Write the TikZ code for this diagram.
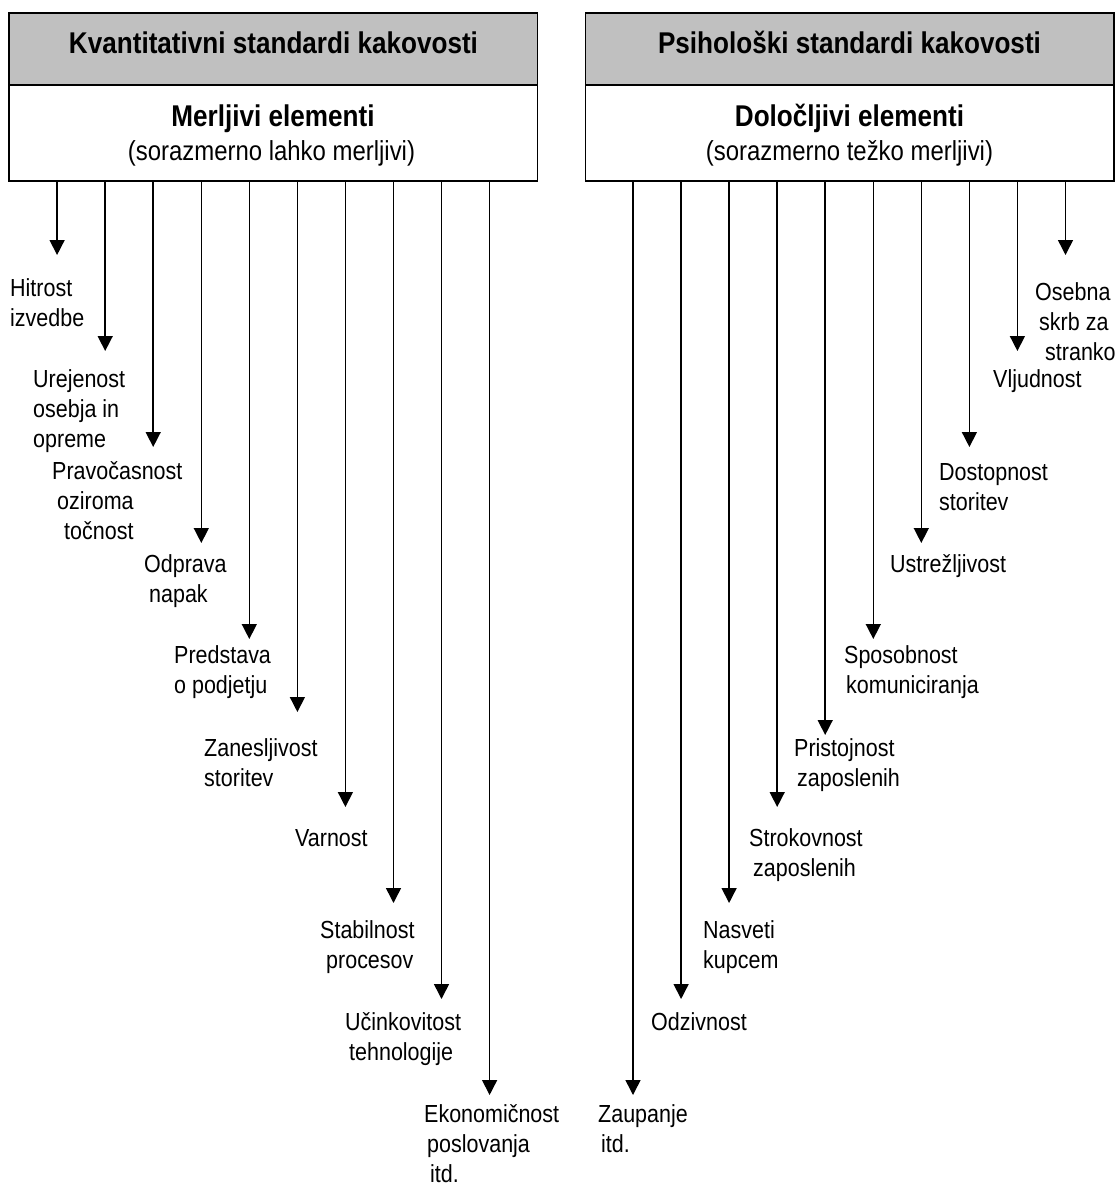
\documentclass[tikz,border=0pt]{standalone}
\usepackage{fontspec}
\setmainfont{Liberation Sans}[FakeStretch=0.87]
\usetikzlibrary{arrows.meta}
\definecolor{hdrgray}{RGB}{192,192,192}
\newcommand{\lbltab}[1]{\begin{tabular}[t]{@{}l@{}}#1\end{tabular}}
\begin{document}
\begin{tikzpicture}[x=1pt,y=-1pt,
  hdrbox/.style={draw=black, line width=1.5pt, fill=hdrgray, minimum width=528.5pt, minimum height=72pt, inner sep=0pt, outer sep=0pt},
  bodybox/.style={draw=black, line width=1.5pt, fill=white, minimum width=528.5pt, minimum height=96pt, inner sep=0pt, outer sep=0pt},
  ttl/.style={anchor=base, inner sep=0pt, font=\fontsize{30}{36}\selectfont\bfseries},
  subttl/.style={anchor=base, inner sep=0pt, font=\fontsize{27.5}{33}\selectfont},
  lab/.style={anchor=base west, inner sep=0pt, font=\fontsize{24.7}{30}\selectfont},
  arr/.style={line width=1.5pt, -{Triangle[width=15pt,length=15pt]}}]
\useasboundingbox (0,0) rectangle (1118,1184);

% boxes
\node[hdrbox] (lhead) at (273.25,49) {};
\node[bodybox] (lbody) at (273.25,133) {};
\node[hdrbox] (rhead) at (849.5,49) {};
\node[bodybox] (rbody) at (849.5,133) {};
\draw[line width=1.5pt] (lhead.south west) -- (lhead.south east);
\draw[line width=1.5pt] (rhead.south west) -- (rhead.south east);

\node[ttl] (lt) at (273.5,53.3) {Kvantitativni standardi kakovosti};
\node[ttl] (ls1) at (273,126) {Merljivi elementi};
\node[subttl] (ls2) at (271.5,160) {(sorazmerno lahko merljivi)};
\node[ttl] (rt) at (849.5,53.3) {Psihološki standardi kakovosti};
\node[ttl] (rs1) at (849.5,126) {Določljivi elementi};
\node[subttl] (rs2) at (849.5,160) {(sorazmerno težko merljivi)};

% left arrows
\foreach \i/\xx/\yy in {1/57.1/255, 2/105.2/351, 3/153.2/447, 4/201.3/543, 5/249.3/639,
                       6/297.4/712, 7/345.4/807, 8/393.5/903, 9/441.5/999, 10/489.6/1095}{
  \coordinate (la\i) at (\xx,\yy);
  \draw[arr] (lbody.south -| la\i) -- (la\i);
}
% right arrows
\foreach \i/\xx/\yy in {1/633/1095, 2/681.1/999, 3/729.1/903, 4/777.2/807, 5/825.2/735,
                       6/873.3/639, 7/921.3/543, 8/969.4/447, 9/1017.4/351, 10/1065.5/255}{
  \coordinate (ra\i) at (\xx,\yy);
  \draw[arr] (rbody.south -| ra\i) -- (ra\i);
}

% left labels
\node[lab] (l1) at (10,296) {\lbltab{Hitrost\\izvedbe}};
\node[lab] (l2) at (33,387) {\lbltab{Urejenost\\osebja in\\opreme}};
\node[lab] (l3) at (52,479) {\lbltab{Pravočasnost\\\hspace*{5pt}oziroma\\\hspace*{12pt}točnost}};
\node[lab] (l4) at (144,572) {\lbltab{Odprava\\\hspace*{5pt}napak}};
\node[lab] (l5) at (174,663) {\lbltab{Predstava\\o podjetju}};
\node[lab] (l6) at (204,756) {\lbltab{Zanesljivost\\storitev}};
\node[lab] (l7) at (295,846) {\lbltab{Varnost}};
\node[lab] (l8) at (320,938) {\lbltab{Stabilnost\\\hspace*{6pt}procesov}};
\node[lab] (l9) at (345,1030) {\lbltab{Učinkovitost\\\hspace*{4pt}tehnologije}};
\node[lab] (l10) at (424,1122) {\lbltab{Ekonomičnost\\\hspace*{3pt}poslovanja\\\hspace*{6pt}itd.}};

% right labels
\node[lab] (r10) at (1035,300) {\lbltab{Osebna\\\hspace*{4pt}skrb za\\\hspace*{10pt}stranko}};
\node[lab] (r9) at (993,387) {\lbltab{Vljudnost}};
\node[lab] (r8) at (939,480) {\lbltab{Dostopnost\\storitev}};
\node[lab] (r7) at (890,572) {\lbltab{Ustrežljivost}};
\node[lab] (r6) at (844,663) {\lbltab{Sposobnost\\\hspace*{2pt}komuniciranja}};
\node[lab] (r5) at (794,756) {\lbltab{Pristojnost\\\hspace*{3pt}zaposlenih}};
\node[lab] (r4) at (749,846) {\lbltab{Strokovnost\\\hspace*{4pt}zaposlenih}};
\node[lab] (r3) at (703,938) {\lbltab{Nasveti\\kupcem}};
\node[lab] (r2) at (651,1030) {\lbltab{Odzivnost}};
\node[lab] (r1) at (598,1122) {\lbltab{Zaupanje\\\hspace*{3pt}itd.}};
\end{tikzpicture}
\end{document}
